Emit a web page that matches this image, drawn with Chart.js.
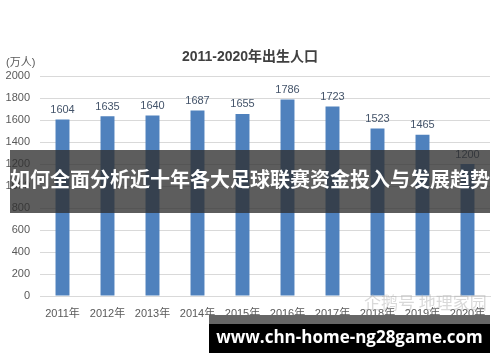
<!DOCTYPE html>
<html>
<head>
<meta charset="utf-8">
<script src="https://cdn.jsdelivr.net/npm/chart.js@4"></script>
<style>
  html, body { margin: 0; padding: 0; background: #fff; }
  #wrap { position: relative; width: 500px; height: 362px; overflow: hidden; }
  canvas { position: absolute; left: 0; top: 0; }
  .txt { position: absolute; white-space: nowrap; font-family: "Liberation Sans", "Noto Sans CJK SC", sans-serif; }
  #title { left: 0; width: 500px; top: 45px; text-align: center; font-size: 14px; font-weight: bold; color: #404040; }
  #unit { left: 6px; top: 53px; font-size: 11px; color: #595959; }
  #mark { left: 364px; top: 289px; font-size: 17px; color: rgba(170,170,170,0.45); font-family: "Noto Sans CJK SC", sans-serif; }
  #banner { position: absolute; left: 10px; top: 150px; width: 480px; height: 63px; background: rgba(48,48,48,0.78); overflow: hidden; }
  #banner span { position: absolute; left: -20px; width: 520px; top: 17px; text-align: center; white-space: nowrap; font-size: 20px; font-weight: bold; color: #fff; font-family: "Noto Sans CJK SC", sans-serif; line-height: 1.2; }
  #foot { position: absolute; left: 209px; top: 315px; width: 281px; height: 38px; background: #000; border-top: 9px solid #666; box-sizing: border-box; overflow: hidden; }
  #foot span { position: absolute; left: -20px; width: 321px; top: 3px; text-align: center; white-space: nowrap; font-size: 17px; font-weight: bold; color: #fff; font-family: "Open Sans", sans-serif; line-height: 1.2; }
</style>
</head>
<body>
<div id="wrap">
  <canvas id="chart" width="500" height="362"></canvas>
  <div class="txt" id="title">2011-2020年出生人口</div>
  <div class="txt" id="unit">(万人)</div>
  <div class="txt" id="mark">企鹅号 地理家园</div>
  <div id="banner"><span>如何全面分析近十年各大足球联赛资金投入与发展趋势</span></div>
  <div id="foot"><span>www.chn-home-ng28game.com</span></div>
</div>
<script>
const years = ['2011年', '2012年', '2013年', '2014年', '2015年', '2016年', '2017年', '2018年', '2019年', '2020年'];
const births = [1604, 1635, 1640, 1687, 1655, 1786, 1723, 1523, 1465, 1200];
const yTicks = [0, 200, 400, 600, 800, 1000, 1200, 1400, 1600, 1800, 2000];

const FONT = '"Liberation Sans", "Noto Sans CJK SC", sans-serif';

// value labels above each bar
const barLabels = {
  id: 'barLabels',
  afterDatasetsDraw(chart) {
    const ctx = chart.ctx;
    const meta = chart.getDatasetMeta(0);
    ctx.save();
    ctx.font = '11px ' + FONT;
    ctx.fillStyle = '#44546a';
    ctx.textAlign = 'center';
    ctx.textBaseline = 'bottom';
    meta.data.forEach((bar, i) => {
      ctx.fillText(String(births[i]), bar.x, bar.y - 4);
    });
    ctx.restore();
  }
};

new Chart(document.getElementById('chart'), {
  type: 'bar',
  data: {
    labels: years,
    datasets: [{
      data: births,
      backgroundColor: '#4f81bd',
      categoryPercentage: 1,
      barPercentage: 0.31
    }]
  },
  options: {
    responsive: false,
    animation: false,
    layout: { padding: { top: 76, right: 10, left: 0, bottom: 0 } },
    plugins: { legend: { display: false }, tooltip: { enabled: false }, title: { display: false } },
    scales: {
      x: {
        grid: { display: false },
        border: { color: '#d9d9d9' },
        ticks: { color: '#595959', font: { size: 11, family: FONT }, padding: 3, maxRotation: 0 },
        afterFit: (s) => { s.height = 66; }
      },
      y: {
        min: 0,
        max: 2000,
        afterBuildTicks: (s) => { s.ticks = yTicks.map(v => ({ value: v })); },
        grid: { color: '#d9d9d9', drawTicks: false },
        border: { display: false },
        ticks: { color: '#595959', font: { size: 11, family: FONT }, padding: 10, callback: (v) => String(v) },
        afterFit: (s) => { s.width = 40; }
      }
    }
  },
  plugins: [barLabels]
});
</script>
</body>
</html>
